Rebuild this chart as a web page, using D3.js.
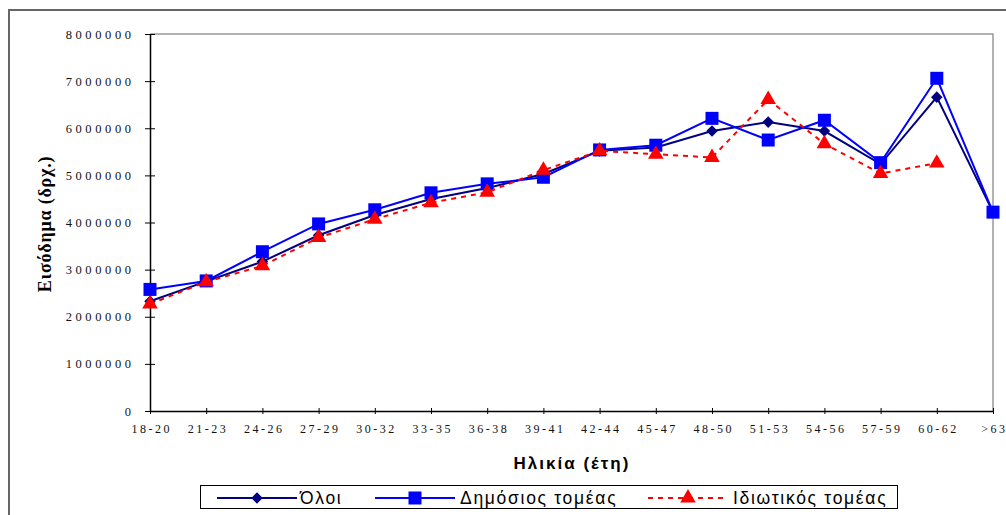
<!DOCTYPE html>
<html><head><meta charset="utf-8">
<script src="https://cdn.jsdelivr.net/npm/d3@7"></script>
<style>body{margin:0;background:#fff}svg{display:block}</style>
</head><body>
<svg id="c" width="1006" height="515"></svg>
<script>
const categories = ["18-20","21-23","24-26","27-29","30-32","33-35","36-38","39-41","42-44","45-47","48-50","51-53","54-56","57-59","60-62",">63"];
const oloi      = [2330000,2750000,3170000,3730000,4160000,4500000,4730000,5030000,5520000,5590000,5940000,6130000,5940000,5240000,6660000,4220000];
const dimosios  = [2580000,2760000,3380000,3970000,4270000,4630000,4820000,4960000,5540000,5640000,6210000,5750000,6170000,5270000,7060000,4220000];
const idiotikos = [2270000,2740000,3080000,3680000,4070000,4420000,4640000,5110000,5520000,5450000,5380000,6610000,5670000,5040000,5260000,null];
const yTicks = [0,1000000,2000000,3000000,4000000,5000000,6000000,7000000,8000000];
const seriesNames = ["Όλοι","Δημόσιος τομέας","Ιδιωτικός τομέας"];

const svg = d3.select("#c");
const L=150, R=993, T=34, B=411;
const x = d3.scalePoint().domain(categories).range([L,R]);
const y = d3.scaleLinear().domain([0,8000000]).range([B,T]);

// outer chart border
svg.append("rect").attr("x",9).attr("y",10).attr("width",1010).attr("height",520)
  .attr("fill","none").attr("stroke","#666").attr("stroke-width",2);

// plot area border (top & right gray)
svg.append("path").attr("d",`M${L},${T}H${R}V${B}`).attr("fill","none").attr("stroke","#999").attr("stroke-width",1.5);

// y axis
const ya = svg.append("g").attr("transform",`translate(${L},0)`)
  .call(d3.axisLeft(y).tickValues(yTicks).tickFormat(d3.format("d")).tickSizeInner(5).tickSizeOuter(0).tickPadding(14));
ya.select(".domain").attr("stroke","#000").attr("stroke-width",1.5);
ya.selectAll(".tick line").attr("x1",5).attr("x2",-5).attr("stroke","#000");
ya.selectAll(".tick text").attr("font-family","'Liberation Serif',serif").attr("font-size",12.5)
  .attr("fill","#111").attr("letter-spacing","3.6px").attr("dx","3.6px");

// x axis
const xa = svg.append("g").attr("transform",`translate(0,${B})`)
  .call(d3.axisBottom(x).tickSizeInner(3).tickSizeOuter(0).tickPadding(10));
xa.select(".domain").attr("stroke","#000").attr("stroke-width",1.5);
xa.selectAll(".tick line").attr("y1",-3).attr("y2",3).attr("stroke","#000");
xa.selectAll(".tick text").attr("font-family","'Liberation Serif',serif").attr("font-size",12)
  .attr("fill","#111").attr("letter-spacing","2.5px").attr("dx","1.25px");
xa.selectAll(".tick text").filter(d=>d===">63").attr("text-anchor","end").attr("dx","14px");

// axis titles
svg.append("text").attr("transform","translate(51,224) rotate(-90)").attr("text-anchor","middle")
  .attr("font-family","'Liberation Serif',serif").attr("font-weight","bold").attr("font-size",18)
  .attr("letter-spacing","0.8px").attr("fill","#000")
  .text("Εισόδημα (δρχ.)");
svg.append("text").attr("x",572).attr("y",469).attr("text-anchor","middle")
  .attr("font-family","'Liberation Sans',Arial,sans-serif").attr("font-weight","bold").attr("font-size",17)
  .attr("letter-spacing","2px").attr("fill","#000").text("Ηλικία (έτη)");

// series
const diamond = d3.symbol().type(d3.symbolDiamond2).size(85);
const square  = d3.symbol().type(d3.symbolSquare).size(169);
const tri     = d3.symbol().type(d3.symbolTriangle).size(105);
const series = [
  {vals:oloi, color:"#000080", dash:null, sym:diamond},
  {vals:dimosios, color:"#0000FF", dash:null, sym:square},
  {vals:idiotikos, color:"#FF0000", dash:"5,5", sym:tri}
];
const line = d3.line().defined(d=>d.v!=null).x(d=>x(d.c)).y(d=>y(d.v));
series.forEach(s=>{
  const pts = categories.map((c,i)=>({c, v:s.vals[i]}));
  svg.append("path").datum(pts).attr("d",line).attr("fill","none").attr("stroke",s.color)
    .attr("stroke-width",2).attr("stroke-dasharray",s.dash);
  svg.append("g").selectAll("path").data(pts.filter(d=>d.v!=null)).join("path")
    .attr("transform",d=>`translate(${x(d.c)},${y(d.v)})`).attr("d",s.sym).attr("fill",s.color);
});

// legend
const lg = svg.append("g");
lg.append("rect").attr("x",200.5).attr("y",485.5).attr("width",697).attr("height",23).attr("fill","#fff").attr("stroke","#000");
const items = [
  {x1:217,x2:297,mx:257,tx:300},
  {x1:375,x2:455,mx:415,tx:460},
  {x1:648,x2:723,mx:688,tx:733}
];
items.forEach((it,i)=>{
  const s = series[i], cy = 498;
  lg.append("line").attr("x1",it.x1).attr("x2",it.x2).attr("y1",cy).attr("y2",cy)
    .attr("stroke",s.color).attr("stroke-width",2).attr("stroke-dasharray",s.dash);
  lg.append("path").attr("transform",`translate(${it.mx},${cy})`).attr("d",s.sym).attr("fill",s.color);
  lg.append("text").attr("x",it.tx).attr("y",504).attr("font-family","'Liberation Sans',Arial,sans-serif")
    .attr("font-size",17.5).attr("letter-spacing","1.7px").attr("fill","#000").text(seriesNames[i]);
});
</script>
</body></html>
